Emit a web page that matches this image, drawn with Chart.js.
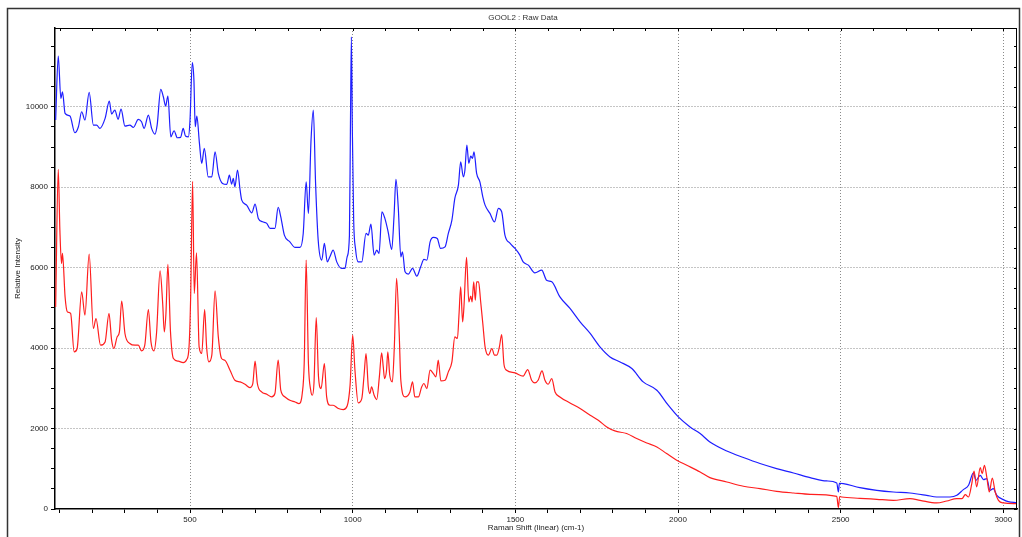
<!DOCTYPE html>
<html>
<head>
<meta charset="utf-8">
<title>GOOL2 : Raw Data</title>
<script src="https://cdn.jsdelivr.net/npm/chart.js@4.4.1/dist/chart.umd.min.js"></script>
<style>
  body { margin: 0; background: #fff; }
  #wrap { width: 1022px; height: 537px; }
</style>
</head>
<body>
<div id="wrap"><canvas id="chart" width="1022" height="537"></canvas></div>
<script>
"use strict";

// [Raman shift (cm-1), relative intensity]
var blueSeries = [
    [87,9670],[95,11263],[103,10210],[108,10375],[116,9837],[131,9770],[146,9355],[157,9505],[167,9877],[177,9670],
    [190,10360],[203,9546],[213,9546],[223,9464],[239,9713],[252,10144],[259,9820],[269,9920],[279,9688],[288,9945],
    [300,9522],[315,9546],[326,9489],[341,9688],[351,9630],[359,9464],[372,9795],[382,9464],[392,9323],[399,9546],
    [410,10435],[418,10250],[425,10019],[432,10268],[441,9255],[451,9405],[461,9231],[471,9240],[479,9464],[486,9273],
    [495,9255],[500,9670],[507,11097],[512,10666],[516,9505],[521,9770],[529,9091],[536,8594],[544,8967],[556,8260],
    [567,8260],[577,8883],[587,8345],[600,8096],[613,8071],[621,8302],[628,8079],[633,8220],[638,8012],[646,8427],
    [654,7929],[659,7680],[674,7556],[690,7365],[700,7581],[710,7225],[723,7141],[736,7101],[746,6977],[761,6977],
    [771,7499],[779,7265],[790,6810],[807,6643],[823,6503],[838,6503],[848,6852],[857,8136],[864,7350],[872,9173],
    [879,9920],[886,8096],[894,6685],[905,6188],[913,6603],[922,6145],[930,6270],[940,6436],[951,6145],[966,5981],
    [976,5981],[983,6270],[990,6800],[993,9400],[996,11743],[999,9400],[1003,7200],[1009,6450],[1017,6145],[1028,6145],
    [1041,6852],[1048,6810],[1056,7084],[1066,6312],[1074,6436],[1081,6354],[1090,7390],[1099,7225],[1109,6892],[1120,6454],
    [1127,7265],[1133,8195],[1140,7514],[1148,6270],[1153,6394],[1161,5897],[1171,5839],[1184,5981],[1197,5790],[1209,6021],
    [1219,6205],[1228,6188],[1238,6643],[1248,6752],[1260,6727],[1270,6479],[1284,6519],[1294,6852],[1305,7183],[1314,7723],
    [1325,8054],[1332,8633],[1340,8260],[1345,8427],[1351,9049],[1357,8594],[1363,8775],[1368,8718],[1373,8883],[1381,8345],
    [1391,8136],[1400,7763],[1407,7556],[1422,7350],[1436,7141],[1448,7474],[1458,7390],[1468,6810],[1484,6603],[1499,6479],
    [1514,6312],[1524,6145],[1540,6063],[1560,5872],[1581,5939],[1596,5690],[1612,5648],[1637,5275],[1668,4986],[1699,4653],
    [1730,4364],[1760,4031],[1791,3782],[1822,3657],[1858,3493],[1893,3160],[1935,2954],[1970,2580],[2001,2289],[2037,2040],
    [2068,1876],[2098,1667],[2150,1443],[2201,1279],[2252,1130],[2303,1005],[2355,896],[2406,781],[2457,697],[2488,647],
    [2493,423],[2496,640],[2508,631],[2559,532],[2611,465],[2662,423],[2713,398],[2764,340],[2795,299],[2836,299],
    [2857,340],[2877,482],[2893,590],[2908,896],[2916,714],[2929,838],[2939,731],[2949,756],[2959,465],[2969,507],
    [2980,340],[3000,233],[3015,184],[3041,159]
];

var redSeries = [
    [87,5026],[95,8444],[100,6934],[105,6105],[108,6354],[116,5275],[123,4901],[133,4862],[144,3906],[153,3991],
    [167,5399],[177,4819],[190,6337],[203,4488],[211,4737],[225,4073],[239,4155],[251,4862],[259,4197],[266,3991],
    [276,4280],[283,4404],[290,5168],[300,4364],[315,4115],[331,4073],[341,4073],[351,3931],[361,4073],[372,4961],
    [380,4155],[389,3931],[397,4364],[408,5922],[416,5110],[421,4404],[426,4862],[432,6081],[440,4404],[449,3742],
    [464,3675],[479,3642],[490,3717],[497,4031],[502,5275],[508,8150],[513,5359],[520,6369],[528,4031],[536,3866],
    [545,4961],[551,4031],[558,3657],[567,3824],[577,5424],[587,4280],[597,3742],[607,3700],[623,3451],[638,3202],
    [654,3160],[669,3102],[684,3020],[693,3120],[700,3675],[707,3120],[720,2911],[736,2854],[751,2787],[761,2871],
    [771,3700],[779,2953],[792,2787],[807,2704],[823,2662],[835,2622],[845,2871],[851,3617],[857,6188],[864,3617],
    [871,2953],[876,2829],[881,3120],[888,4762],[895,3284],[903,2995],[913,3617],[920,2787],[930,2580],[940,2580],
    [956,2498],[971,2473],[983,2560],[992,3080],[1000,4322],[1007,3450],[1017,2640],[1028,2746],[1035,3326],[1041,3866],
    [1048,3035],[1053,2871],[1058,3035],[1066,2829],[1074,2722],[1082,3284],[1089,3881],[1094,3533],[1098,3244],[1104,3451],
    [1108,3906],[1114,3326],[1122,3160],[1128,4031],[1135,5732],[1143,4364],[1148,3202],[1161,2787],[1176,2911],[1184,3160],
    [1191,2787],[1202,2787],[1212,3035],[1219,3120],[1228,2995],[1238,3451],[1248,3368],[1256,3284],[1263,3700],[1271,3185],
    [1284,3202],[1294,3409],[1305,3657],[1314,4280],[1322,4239],[1327,4862],[1332,5523],[1338,4653],[1342,5026],[1350,6255],
    [1357,5150],[1363,5292],[1367,5150],[1372,5648],[1377,5192],[1381,5648],[1387,5648],[1393,5192],[1400,4612],[1407,4031],
    [1417,3824],[1428,3991],[1436,3824],[1443,3824],[1451,4031],[1458,4339],[1465,3600],[1473,3451],[1499,3384],[1524,3302],
    [1538,3468],[1550,3202],[1560,3135],[1570,3202],[1582,3434],[1591,3202],[1601,3102],[1612,3244],[1622,2911],[1637,2787],
    [1668,2637],[1699,2498],[1730,2331],[1755,2207],[1781,2040],[1806,1941],[1842,1876],[1873,1752],[1904,1642],[1935,1543],
    [1965,1378],[1996,1212],[2027,1088],[2068,921],[2098,781],[2150,672],[2201,565],[2252,507],[2303,440],[2355,398],
    [2406,366],[2488,316],[2493,35],[2497,310],[2503,299],[2559,266],[2611,241],[2662,216],[2713,258],[2744,216],
    [2795,150],[2826,199],[2857,258],[2873,258],[2883,357],[2893,299],[2903,631],[2910,945],[2918,548],[2929,1030],
    [2935,880],[2942,1087],[2949,797],[2957,423],[2966,771],[2975,423],[2985,216],[3000,150],[3041,134]
];

var xLabelTicks = [500, 1000, 1500, 2000, 2500, 3000];
var yLabelTicks = [0, 2000, 4000, 6000, 8000, 10000];
var xMinorStep = 100;
var yMinorStep = 500;
var xRange = [85, 3042];
var yRange = [0, 11960];

var titleText = 'GOOL2 : Raw Data';
var xTitle = 'Raman Shift (linear) (cm-1)';
var yTitle = 'Relative Intensity';

var fontFamily = '"Liberation Sans", Arial, sans-serif';

function toPoints(series) {
    return series.map(function (p) { return { x: p[0], y: p[1] }; });
}

// minor + major tick list inside the range
function stepTicks(range, step) {
    var out = [];
    for (var v = Math.ceil(range[0] / step) * step; v <= range[1]; v += step) out.push({ value: v });
    return out;
}
function isMajor(v, list) { return list.indexOf(v) >= 0; }

// frame, title and the inward ticks on the top / right edges
var framePlugin = {
    id: 'frame',
    beforeDraw: function (chart) {
        var c = chart.ctx;
        c.save();
        c.fillStyle = '#fff';
        c.fillRect(0, 0, chart.width, chart.height);
        c.strokeStyle = '#333';
        c.lineWidth = 1.5;
        c.strokeRect(7.5, 8.5, 1012, 540);
        c.restore();
    },
    afterDraw: function (chart) {
        var c = chart.ctx, a = chart.chartArea, sx = chart.scales.x, sy = chart.scales.y;
        c.save();
        c.strokeStyle = '#000';
        c.lineWidth = 1;
        c.beginPath();
        c.moveTo(a.left, a.top + 0.5); c.lineTo(a.right, a.top + 0.5);
        c.moveTo(a.right - 0.5, a.top); c.lineTo(a.right - 0.5, a.bottom);
        sx.ticks.forEach(function (t) {
            var px = Math.round(sx.getPixelForValue(t.value)) + 0.5;
            c.moveTo(px, a.top); c.lineTo(px, a.top + 3);
        });
        sy.ticks.forEach(function (t) {
            var py = Math.round(sy.getPixelForValue(t.value)) + 0.5;
            c.moveTo(a.right, py); c.lineTo(a.right - 3, py);
        });
        c.stroke();
        c.fillStyle = '#333';
        c.font = '8px ' + fontFamily;
        c.textAlign = 'center';
        c.textBaseline = 'middle';
        c.fillText(titleText, 523, 18);
        c.restore();
    }
};

var config = {
    type: 'line',
    data: {
        datasets: [
            {
                label: 'red',
                data: toPoints(redSeries),
                borderColor: 'rgb(255,30,30)',
                borderWidth: 1.2,
                pointRadius: 0,
                cubicInterpolationMode: 'monotone',
                fill: false
            },
            {
                label: 'blue',
                data: toPoints(blueSeries),
                borderColor: 'rgb(30,30,255)',
                borderWidth: 1.2,
                pointRadius: 0,
                cubicInterpolationMode: 'monotone',
                fill: false
            }
        ]
    },
    options: {
        responsive: false,
        animation: false,
        events: [],
        layout: { padding: { top: 28, right: 5, left: 0, bottom: 0 } },
        plugins: {
            legend: { display: false },
            tooltip: { enabled: false },
            title: { display: false }
        },
        scales: {
            x: {
                type: 'linear',
                min: xRange[0],
                max: xRange[1],
                afterBuildTicks: function (s) { s.ticks = stepTicks(xRange, xMinorStep); },
                afterFit: function (s) { s.height = 28; },
                ticks: {
                    autoSkip: false,
                    maxRotation: 0,
                    padding: 2,
                    color: '#222',
                    font: { family: fontFamily, size: 8 },
                    callback: function (v) { return isMajor(v, xLabelTicks) ? String(v) : ''; }
                },
                grid: {
                    color: function (ctx) { return ctx.tick && isMajor(ctx.tick.value, xLabelTicks) ? '#8a8a8a' : 'rgba(0,0,0,0)'; },
                    lineWidth: 1,
                    tickLength: 4,
                    tickColor: '#000'
                },
                border: { display: true, color: '#000', width: 1.5, dash: [1, 2] },
                title: {
                    display: true,
                    text: xTitle,
                    color: '#222',
                    font: { family: fontFamily, size: 8 },
                    padding: { top: 0, bottom: 4 }
                }
            },
            y: {
                min: yRange[0],
                max: yRange[1],
                afterBuildTicks: function (s) { s.ticks = stepTicks(yRange, yMinorStep); },
                afterFit: function (s) { s.width = 55; },
                ticks: {
                    autoSkip: false,
                    padding: 3,
                    color: '#222',
                    font: { family: fontFamily, size: 8 },
                    callback: function (v) { return isMajor(v, yLabelTicks) ? String(v) : ''; }
                },
                grid: {
                    color: function (ctx) { return ctx.tick && isMajor(ctx.tick.value, yLabelTicks) && ctx.tick.value > 0 ? '#8a8a8a' : 'rgba(0,0,0,0)'; },
                    lineWidth: 1,
                    tickLength: 4,
                    tickColor: '#000'
                },
                border: { display: true, color: '#000', width: 1.5, dash: [1, 2] },
                title: {
                    display: true,
                    text: yTitle,
                    color: '#222',
                    font: { family: fontFamily, size: 8 },
                    padding: { top: 13, bottom: 0 }
                }
            }
        }
    },
    plugins: [framePlugin]
};

var chart = new Chart(document.getElementById('chart'), config);
</script>
</body>
</html>
